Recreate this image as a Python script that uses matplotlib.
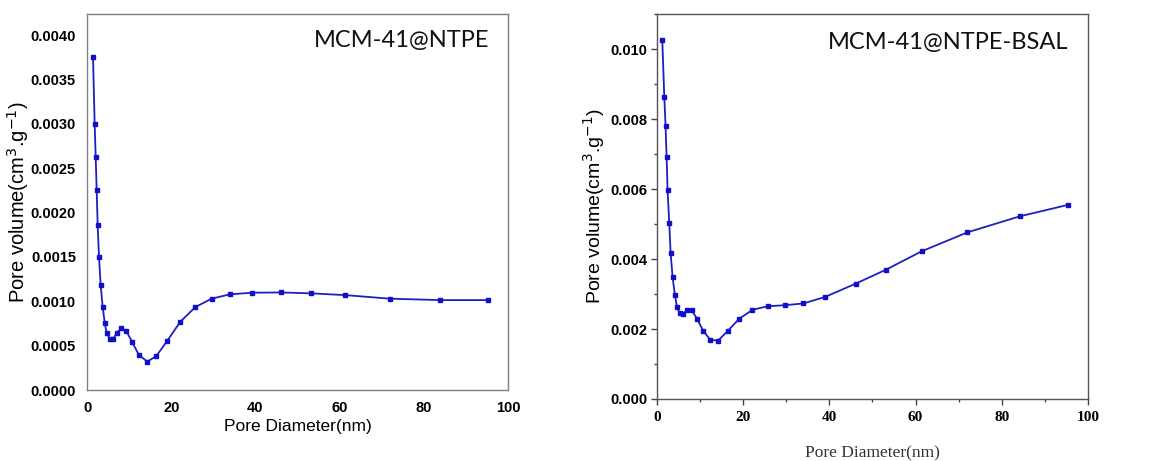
import matplotlib
matplotlib.use("Agg")
import matplotlib.pyplot as plt
from matplotlib.ticker import MultipleLocator, FormatStrFormatter

# Pore diameter (nm)
diameter_ntpe = [1.43, 1.82, 2.06, 2.30, 2.53, 2.85, 3.25, 3.72, 4.20, 4.67, 5.38,
                 6.25, 7.05, 8.15, 9.34, 10.77, 12.35, 14.33, 16.47, 19.08, 22.17,
                 25.73, 29.61, 33.90, 39.10, 46.20, 53.10, 61.40, 71.90, 83.85, 95.25]
volume_ntpe = [0.00375, 0.00300, 0.00263, 0.00225, 0.00186, 0.00150, 0.00118,
               0.00094, 0.00076, 0.00064, 0.00058, 0.00058, 0.00064, 0.00070,
               0.000665, 0.000537, 0.000394, 0.00032, 0.000383, 0.000556, 0.00077,
               0.000935, 0.00103, 0.001078, 0.001097, 0.00110, 0.00109, 0.00107,
               0.00103, 0.001014, 0.001014]

diameter_bsal = [1.24, 1.70, 2.00, 2.24, 2.47, 2.86, 3.17, 3.63, 4.17, 4.63, 5.25,
                 6.10, 6.95, 8.03, 9.27, 10.73, 12.36, 14.20, 16.37, 19.07, 22.16,
                 25.70, 29.65, 33.98, 39.07, 46.18, 53.20, 61.40, 71.97, 84.17, 95.44]
volume_bsal = [0.01026, 0.00864, 0.00781, 0.00691, 0.00596, 0.00502, 0.00418,
               0.00348, 0.00297, 0.00264, 0.00245, 0.00244, 0.00254, 0.00254,
               0.00230, 0.00195, 0.00169, 0.00167, 0.00194, 0.00229, 0.00255,
               0.00265, 0.00268, 0.00273, 0.00292, 0.00330, 0.00370, 0.00422,
               0.00476, 0.00522, 0.00555]

label_left = "MCM-41@NTPE"
label_right = "MCM-41@NTPE-BSAL"
xlabel = "Pore Diameter(nm)"
ylabel = "Pore volume(cm$^3$.g$^{-1}$)"

line_color = "#1f1fbf"
marker_color = "#1010c8"

fig = plt.figure(figsize=(11.57, 4.61), dpi=100)

# ---------- left panel ----------
ax1 = fig.add_axes([0.0752, 0.154, 0.3638, 0.8156])
ax1.plot(diameter_ntpe, volume_ntpe, color=line_color, lw=1.3,
         marker="s", ms=3.5, mfc=marker_color, mec=marker_color)
ax1.set_xlim(0, 100)
ax1.set_ylim(0, 0.00424)
ax1.xaxis.set_major_locator(MultipleLocator(20))
ax1.yaxis.set_major_locator(MultipleLocator(0.0005))
ax1.yaxis.set_major_formatter(FormatStrFormatter("%.4f"))
ax1.tick_params(length=0, pad=8)
for lab in ax1.get_xticklabels() + ax1.get_yticklabels():
    lab.set_fontfamily("Liberation Sans")
    lab.set_fontweight("bold")
    lab.set_fontsize(10.5)
for sp in ax1.spines.values():
    sp.set_color("#7f7f7f")
    sp.set_linewidth(1.0)
ax1.set_xlabel(xlabel, family="Liberation Sans", fontsize=12.5, labelpad=3)
ax1.set_ylabel(ylabel, family="Liberation Sans", fontsize=14.5, labelpad=0)
ax1.text(0.955, 0.93, label_left, transform=ax1.transAxes, ha="right", va="center",
         family="Lato", fontsize=17, color="#111111")

# ---------- right panel ----------
ax2 = fig.add_axes([0.5678, 0.1345, 0.3726, 0.835])
ax2.plot(diameter_bsal, volume_bsal, color=line_color, lw=1.3,
         marker="s", ms=3.5, mfc=marker_color, mec=marker_color)
ax2.set_xlim(0, 100)
ax2.set_ylim(0, 0.011)
ax2.xaxis.set_major_locator(MultipleLocator(20))
ax2.xaxis.set_minor_locator(MultipleLocator(10))
ax2.yaxis.set_major_locator(MultipleLocator(0.002))
ax2.yaxis.set_minor_locator(MultipleLocator(0.001))
ax2.yaxis.set_major_formatter(FormatStrFormatter("%.3f"))
ax2.tick_params(which="major", direction="out", length=4, width=1.0, color="#444444")
ax2.tick_params(which="minor", direction="out", length=2.5, width=1.0, color="#444444")
ax2.tick_params(axis="x", which="both", top=False, pad=5)
ax2.tick_params(axis="y", which="both", right=False, pad=3)
for lab in ax2.get_xticklabels():
    lab.set_fontfamily("Liberation Serif")
    lab.set_fontweight("bold")
    lab.set_fontsize(11)
for lab in ax2.get_yticklabels():
    lab.set_fontfamily("Liberation Sans")
    lab.set_fontweight("bold")
    lab.set_fontsize(10.5)
for sp in ax2.spines.values():
    sp.set_color("#555555")
    sp.set_linewidth(1.0)
ax2.set_xlabel(xlabel, family="Liberation Serif", fontsize=12.5, labelpad=15, color="#333333")
ax2.set_ylabel(ylabel, family="Liberation Sans", fontsize=14, labelpad=2)
ax2.text(0.955, 0.925, label_right, transform=ax2.transAxes, ha="right", va="center",
         family="Lato", fontsize=17, color="#111111")

fig.savefig("out.png", dpi=100, facecolor="white")
